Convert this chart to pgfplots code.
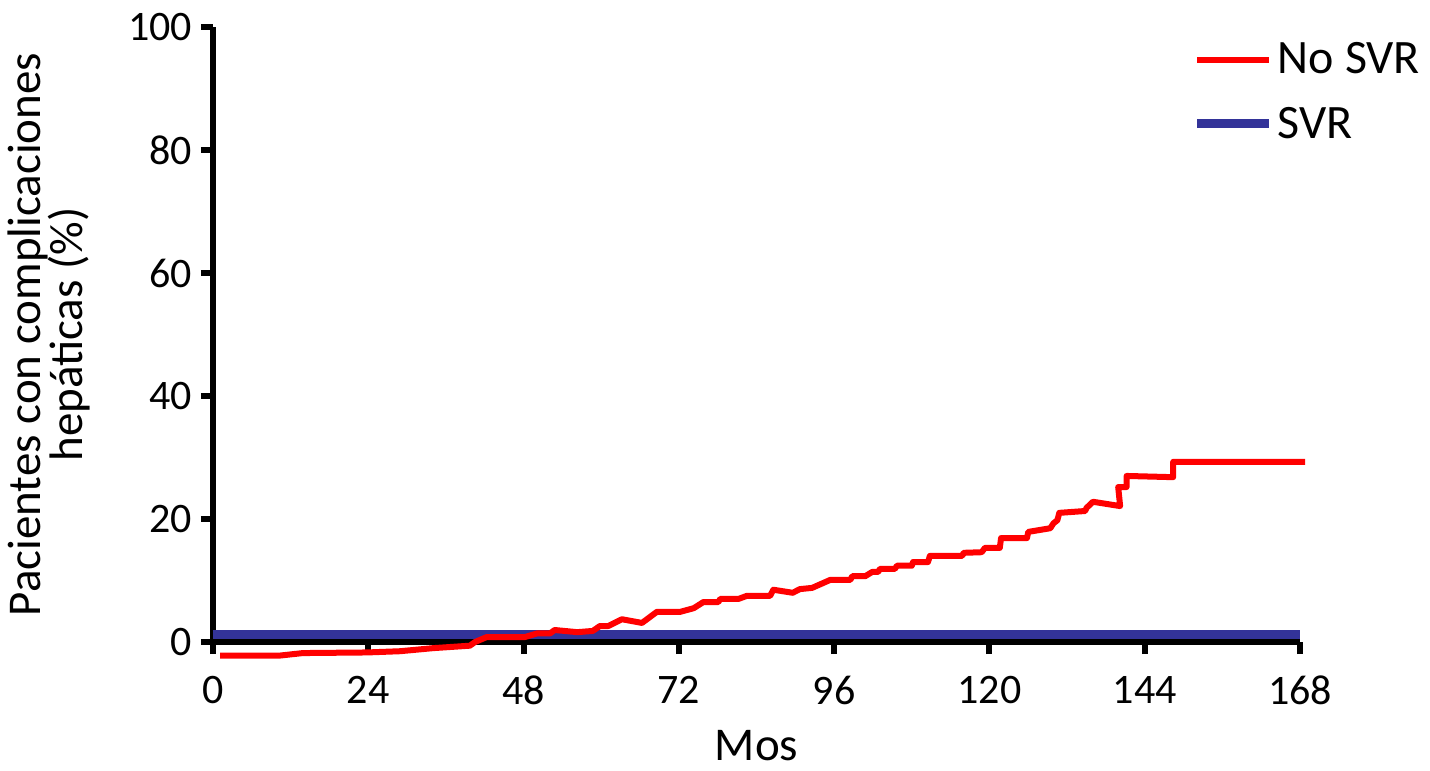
\documentclass[border=0pt]{standalone}
\usepackage{fontspec}
\setmainfont{Carlito}
\usepackage{pgfplots}
\pgfplotsset{compat=1.18}
\definecolor{svrblue}{RGB}{51,51,153}
\definecolor{nsvrred}{RGB}{255,0,0}

\begin{document}
\begin{tikzpicture}
% page frame in reference proportions (axis origin at 0,0; 1px = 0.5pt)
\useasboundingbox (-106.5pt,-64.5pt) rectangle (608.5pt,321pt);
\begin{axis}[
    scale only axis,
    width=543.5pt, height=307.5pt,
    xmin=0, xmax=168, ymin=0, ymax=100,
    clip=false,
    axis lines=left,
    axis line style={-, line width=3pt, black},
    xtick={0,24,...,168}, ytick={0,20,...,100},
    tick style={line width=3pt, black},
    tick align=outside,
    major tick length=6pt,
    /pgf/number format/assume math mode=true,
    ticklabel style={font=\fontsize{21}{24}\selectfont},
    xticklabel style={yshift=-7.5pt},
    yticklabel style={xshift=-1pt},
    xlabel={Mos},
    ylabel={Pacientes con complicaciones\\hepáticas (\%)},
    label style={font=\fontsize{23.5}{21}\selectfont},
    ylabel style={align=center},
    xlabel shift=6pt,
    ylabel shift=12pt,
    legend style={draw=none, fill=none, at={(1.12,0.988)}, anchor=north east,
        font=\fontsize{24}{28}\selectfont, row sep=11pt},
    legend cell align=left,
    legend image code/.code={\draw[#1] (0pt,0pt) -- (36pt,0pt);},
]
% SVR drawn first so that the red curve lies on top of it
\addplot[svrblue, line width=4.5pt, forget plot] coordinates {
    (0,1.3) (168,1.3)
};
\addplot[nsvrred, line width=3pt, line join=round] coordinates {
    (1.1,-2.2) (10.4,-2.2) (13.9,-1.8) (23.8,-1.7) (28.9,-1.5) (34,-1.0)
    (39.7,-0.6) (40.5,0) (42.3,0.8) (48.2,0.8) (50.1,1.4) (52.1,1.4)
    (52.8,1.95) (56.3,1.6) (58.7,1.8) (59.8,2.6) (61.1,2.6) (63.2,3.7)
    (66.3,3.1) (68.6,4.9) (72.2,4.9) (74.3,5.5) (75.8,6.5) (78.1,6.5)
    (78.4,7.0) (81.2,7.0) (82.5,7.5) (86.1,7.5) (86.6,8.5) (89.6,8.0)
    (90.7,8.6) (92.6,8.8) (95.4,10.1) (98.5,10.1) (98.8,10.7) (100.8,10.7)
    (101.9,11.4) (102.8,11.4) (103.1,11.9) (105.4,11.9) (105.7,12.4)
    (108.0,12.4) (108.2,13.0) (110.5,13.0) (110.8,14.0) (115.8,14.0)
    (116.0,14.5) (118.8,14.6) (119.3,15.3) (121.6,15.3) (121.8,16.9)
    (125.8,16.9) (126.0,17.9) (129.4,18.5) (129.9,19.3) (130.5,19.8)
    (130.8,21.0) (134.8,21.3) (135.0,21.8) (136.0,22.8) (140.2,22.1)
    (139.9,25.2) (141.2,25.2) (141.2,27.0) (148.4,26.8) (148.4,29.3)
    (168.8,29.3)
};
\addlegendentry{No SVR}
\addlegendimage{svrblue, line width=4.5pt}
\addlegendentry{SVR}
\end{axis}
\end{tikzpicture}
\end{document}
